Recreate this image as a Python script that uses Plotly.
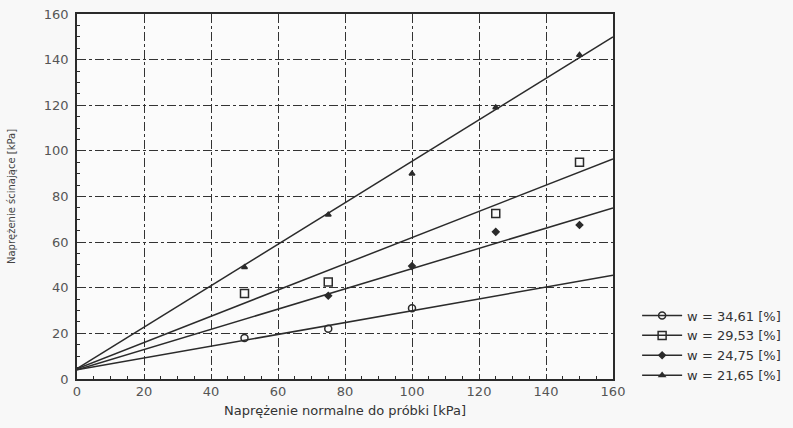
import plotly.graph_objects as go

# Measured points (normal stress [kPa] -> shear stress [kPa])
labels = ["w = 34,61 [%]", "w = 29,53 [%]", "w = 24,75 [%]", "w = 21,65 [%]"]
x_w3461 = [50, 75, 100]
y_w3461 = [18, 22, 31]
x_w2953 = [50, 75, 125, 150]
y_w2953 = [37.5, 42.5, 72.5, 95]
x_w2475 = [75, 100, 125, 150]
y_w2475 = [36.5, 49.5, 64.5, 67.5]
x_w2165 = [50, 75, 100, 125, 150]
y_w2165 = [49, 72, 90, 119, 142]

# Fitted straight lines (values at the ends of the x range)
fit_x = [0, 160]
fit_w3461 = [4.0, 45.5]
fit_w2953 = [4.5, 96.5]
fit_w2475 = [4.0, 75.0]
fit_w2165 = [4.5, 150.0]

symbols = ["circle-open", "square-open", "diamond", "triangle-up"]
sizes = [7, 8, 5, 5]
xs = [x_w3461, x_w2953, x_w2475, x_w2165]
ys = [y_w3461, y_w2953, y_w2475, y_w2165]
fits = [fit_w3461, fit_w2953, fit_w2475, fit_w2165]

ink = "#2b2b2b"
FONT = "DejaVu Sans, Verdana, Arial"
fig = go.Figure()
for lab, sym, sz, xx, yy, ff in zip(labels, symbols, sizes, xs, ys, fits):
    fig.add_trace(go.Scatter(
        x=fit_x, y=ff, mode="lines", line=dict(color=ink, width=1.5),
        showlegend=False, hoverinfo="skip"))
    fig.add_trace(go.Scatter(
        x=xx, y=yy, mode="markers", name=lab,
        marker=dict(symbol=sym, size=sz, color=ink, line=dict(color=ink, width=1.5)),
        showlegend=False))
    # legend proxy
    fig.add_trace(go.Scatter(
        x=[None], y=[None], mode="lines+markers", name=lab,
        line=dict(color=ink, width=1.5),
        marker=dict(symbol=sym, size=sz, color=ink, line=dict(color=ink, width=1.5))))

axis_common = dict(
    showline=True, linecolor=ink, linewidth=1.5, mirror=True,
    showgrid=True, gridcolor="#333333", gridwidth=1.2, griddash="dashdot",
    zeroline=False, ticks="", tickfont=dict(family=FONT, size=13, color="#555"),
    minor=dict(ticks="inside", ticklen=3, tickcolor=ink, dtick=5, showgrid=False),
)

fig.update_layout(
    width=793, height=428,
    margin=dict(l=77, r=180, t=14, b=49, autoexpand=False),
    paper_bgcolor="#f8f8f8", plot_bgcolor="#fbfbfb",
    font=dict(family=FONT, color="#333"),
    xaxis=dict(range=[0, 160], dtick=20, **axis_common,
               title=dict(text="Naprężenie normalne do próbki [kPa]",
                          font=dict(family=FONT, size=13, color="#333"), standoff=8)),
    yaxis=dict(range=[0, 160], dtick=20, ticklabelstandoff=4, **axis_common,
               title=dict(text="Naprężenie ścinające [kPa]",
                          font=dict(family=FONT, size=10, color="#444"), standoff=26)),
    legend=dict(x=1.045, y=0.215, xanchor="left", yanchor="top",
                bgcolor="rgba(0,0,0,0)", font=dict(family=FONT, size=13, color="#333"),
                tracegroupgap=0, itemwidth=40),
)

fig.write_html("out.html")
